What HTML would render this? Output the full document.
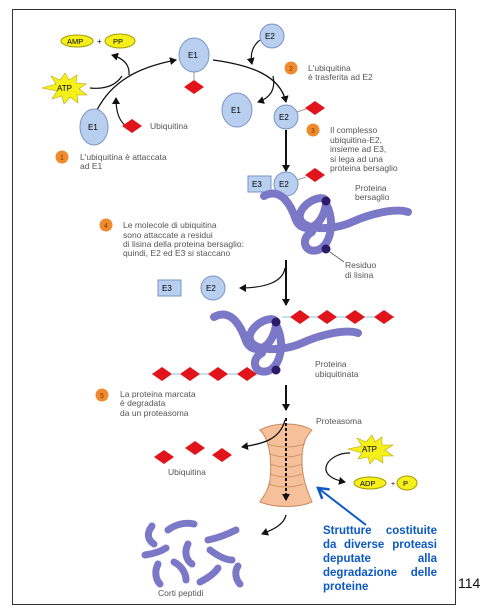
<!DOCTYPE html>
<html><head><meta charset="utf-8"><style>
html,body{margin:0;padding:0;background:#fff;}
svg{display:block;font-family:"Liberation Sans",sans-serif;}
.t{font-size:8.5px;fill:#555;}
.b{font-size:11.5px;fill:#0b59c4;font-weight:bold;}
</style></head><body>
<svg width="487" height="614" viewBox="0 0 487 614">
<defs>
<marker id="ar" markerWidth="8" markerHeight="8" refX="6" refY="4" orient="auto" markerUnits="userSpaceOnUse"><path d="M0,0 L7,4 L0,8 z" fill="#111"/></marker>
<marker id="ab" markerWidth="14" markerHeight="14" refX="11" refY="7" orient="auto" markerUnits="userSpaceOnUse"><path d="M1,1 L11,7 L1,13" fill="none" stroke="#0b59c4" stroke-width="2.5"/></marker>
<g id="dia"><path d="M-10,0 L0,-7 L10,0 L0,7 z" fill="#e0141a"/></g>
<g id="coil">
<path d="M264,196 C282,186 292,208 296,220 C302,234 322,230 326,204 C328,192 304,200 300,214 C296,230 330,232 352,222 C372,213 396,208 408,212" fill="none" stroke="#7b78c8" stroke-width="8" stroke-linecap="round"/>
<path d="M326,204 C336,222 330,246 318,250 C304,254 300,238 312,232" fill="none" stroke="#7b78c8" stroke-width="8" stroke-linecap="round"/>
<circle cx="326" cy="201" r="4.5" fill="#2c1a6b"/><circle cx="326" cy="249" r="4.5" fill="#2c1a6b"/>
</g>
</defs>
<rect x="12.5" y="9.5" width="443" height="595" fill="#fff" stroke="#333" stroke-width="1"/>

<ellipse cx="77" cy="41" rx="16" ry="6" fill="#f5ef1a" stroke="#a49c00"/>
<text x="67" y="44" font-size="7.5">AMP</text>
<text x="97" y="44" font-size="8">+</text>
<ellipse cx="120" cy="41" rx="15" ry="7" fill="#f5ef1a" stroke="#a49c00"/>
<text x="113" y="44" font-size="7.5">PP</text>
<polygon points="65,73 69,80 77,75 76,83 86,84 79,89 87,95 77,95 78,103 70,97 64,104 62,96 52,99 57,91 42,88 56,84 51,76 60,80" fill="#f5ef1a" stroke="#b8a800" stroke-width="0.6"/>
<text x="57" y="91" font-size="8">ATP</text>
<path d="M90,88 C110,90 118,82 122,76" fill="none" stroke="#111" stroke-width="1.2"/>
<path d="M129,75 C130,64 122,58 112,55" fill="none" stroke="#111" stroke-width="1.2" marker-end="url(#ar)"/>
<path d="M97,110 C115,75 150,65 176,60" fill="none" stroke="#111" stroke-width="1.3" marker-end="url(#ar)"/>
<path d="M126,126 C118,120 116,110 116,98" fill="none" stroke="#111" stroke-width="1.2" marker-end="url(#ar)"/>
<ellipse cx="194" cy="55" rx="15" ry="17" fill="#b9cff0" stroke="#7a94c4"/><text x="188" y="58" font-size="8">E1</text>
<line x1="194" y1="72" x2="194" y2="80" stroke="#999"/>
<use href="#dia" x="194" y="87"/>
<ellipse cx="94" cy="127" rx="14" ry="18" fill="#b9cff0" stroke="#7a94c4"/><text x="88" y="130" font-size="8">E1</text>
<use href="#dia" x="132" y="126"/>
<text x="150" y="129" class="t">Ubiquitina</text>
<circle cx="62" cy="157" r="6.5" fill="#f08a2e"/><text x="60" y="160" font-size="7" fill="#7a3a00">1</text>
<text x="80" y="160" class="t">L'ubiquitina è attaccata</text><text x="80" y="169" class="t">ad E1</text>
<circle cx="272" cy="36" r="12" fill="#b9cff0" stroke="#7a94c4"/><text x="265" y="39" font-size="8">E2</text>
<path d="M260,40 C252,46 250,55 252,64" fill="none" stroke="#111" stroke-width="1.2" marker-end="url(#ar)"/>
<path d="M213,60 C250,65 280,75 286,102" fill="none" stroke="#111" stroke-width="1.3" marker-end="url(#ar)"/>
<path d="M273,76 C276,90 270,98 258,102" fill="none" stroke="#111" stroke-width="1.2" marker-end="url(#ar)"/>
<circle cx="291" cy="68" r="6.5" fill="#f08a2e"/><text x="289" y="71" font-size="7" fill="#7a3a00">2</text>
<text x="308" y="71" class="t">L'ubiquitina</text><text x="308" y="80" class="t">è trasferita ad E2</text>
<ellipse cx="237" cy="110" rx="15" ry="17" fill="#b9cff0" stroke="#7a94c4"/><text x="231" y="113" font-size="8">E1</text>
<circle cx="286" cy="117" r="12" fill="#b9cff0" stroke="#7a94c4"/><text x="279" y="120" font-size="8">E2</text>
<line x1="297" y1="112" x2="306" y2="109" stroke="#999"/>
<use href="#dia" x="315" y="108"/>
<circle cx="313" cy="130" r="6.5" fill="#f08a2e"/><text x="311" y="133" font-size="7" fill="#7a3a00">3</text>
<text x="330" y="133" class="t">Il complesso</text><text x="330" y="143" class="t">ubiquitina-E2,</text><text x="330" y="152" class="t">insieme ad E3,</text><text x="330" y="162" class="t">si lega ad una</text><text x="330" y="171" class="t">proteina bersaglio</text>
<line x1="286" y1="130" x2="286" y2="171" stroke="#111" stroke-width="2" marker-end="url(#ar)"/>
<rect x="248" y="176" width="23" height="16" fill="#b9cff0" stroke="#7a94c4"/><text x="252" y="187" font-size="8">E3</text>
<circle cx="286" cy="184" r="12" fill="#b9cff0" stroke="#7a94c4"/><text x="279" y="187" font-size="8">E2</text>
<line x1="297" y1="180" x2="306" y2="177" stroke="#999"/>
<use href="#dia" x="315" y="175"/>
<text x="355" y="191" class="t">Proteina</text><text x="355" y="200" class="t">bersaglio</text>
<use href="#coil"/>
<circle cx="106" cy="225" r="6.5" fill="#f08a2e"/><text x="104" y="228" font-size="7" fill="#7a3a00">4</text>
<text x="123" y="228" class="t">Le molecole di ubiquitina</text><text x="123" y="238" class="t">sono attaccate a residui</text><text x="123" y="247" class="t">di lisina della proteina bersaglio:</text><text x="123" y="256" class="t">quindi, E2 ed E3 si staccano</text>
<line x1="330" y1="252" x2="344" y2="262" stroke="#555" stroke-width="0.8"/>
<text x="345" y="268" class="t">Residuo</text><text x="345" y="278" class="t">di lisina</text>
<line x1="286" y1="260" x2="286" y2="305" stroke="#111" stroke-width="2" marker-end="url(#ar)"/>
<path d="M285,268 C283,282 265,288 240,288" fill="none" stroke="#111" stroke-width="1.2" marker-end="url(#ar)"/>
<rect x="158" y="280" width="23" height="16" fill="#b9cff0" stroke="#7a94c4"/><text x="162" y="291" font-size="8">E3</text>
<circle cx="213" cy="288" r="12" fill="#b9cff0" stroke="#7a94c4"/><text x="206" y="291" font-size="8">E2</text>
<line x1="282" y1="317" x2="395" y2="317" stroke="#7fc6e8"/>
<use href="#dia" x="300" y="317"/><use href="#dia" x="327" y="317"/><use href="#dia" x="355" y="317"/><use href="#dia" x="384" y="317"/>
<line x1="152" y1="374" x2="270" y2="374" stroke="#7fc6e8"/>
<use href="#dia" x="162" y="374"/><use href="#dia" x="190" y="374"/><use href="#dia" x="218" y="374"/><use href="#dia" x="247" y="374"/>
<use href="#coil" transform="translate(-50,121)"/>
<text x="315" y="367" class="t">Proteina</text><text x="315" y="377" class="t">ubiquitinata</text>
<circle cx="102" cy="395" r="6.5" fill="#f08a2e"/><text x="100" y="398" font-size="7" fill="#7a3a00">5</text>
<text x="120" y="397" class="t">La proteina marcata</text><text x="120" y="406" class="t">è degradata</text><text x="120" y="416" class="t">da un proteasoma</text>
<line x1="286" y1="385" x2="286" y2="410" stroke="#111" stroke-width="2" marker-end="url(#ar)"/>
<text x="316" y="424" class="t">Proteasoma</text>
<path d="M260,430 C270,440 272,460 270,480 C268,492 262,498 260,502 C275,508 298,508 312,502 C308,492 302,480 302,460 C302,440 308,435 312,430 C298,422 275,422 260,430 z" fill="#f6c09a" stroke="#c98a60"/>
<g stroke="#c98a60" stroke-width="0.8" fill="none">
<path d="M267,444 Q286,450 305,444"/><path d="M270,454 Q286,460 302,454"/><path d="M270,464 Q286,470 302,464"/><path d="M270,474 Q286,480 302,474"/><path d="M269,484 Q286,490 303,484"/>
</g>
<line x1="286" y1="418" x2="286" y2="500" stroke="#111" stroke-width="2" stroke-dasharray="3,2" marker-end="url(#ar)"/>
<path d="M285,420 C280,440 262,444 242,447" fill="none" stroke="#111" stroke-width="1.3" marker-end="url(#ar)"/>
<use href="#dia" x="164" y="457"/><use href="#dia" x="195" y="448"/><use href="#dia" x="222" y="455"/>
<text x="168" y="475" class="t">Ubiquitina</text>
<polygon points="372,435 375,442 382,437 382,445 393,445 385,450 393,456 382,456 383,463 375,458 370,464 368,457 358,459 362,453 348,449 362,446 357,438 366,442" fill="#f5ef1a" stroke="#b8a800" stroke-width="0.6"/>
<text x="362" y="452" font-size="8">ATP</text>
<path d="M350,453 C330,452 310,475 345,482" fill="none" stroke="#111" stroke-width="1.2" marker-end="url(#ar)"/>
<ellipse cx="370" cy="483" rx="16" ry="6" fill="#f5ef1a" stroke="#a49c00"/><text x="360" y="486" font-size="7.5">ADP</text>
<text x="391" y="486" font-size="7">+</text>
<ellipse cx="407" cy="483" rx="10" ry="7" fill="#f5ef1a" stroke="#a49c00"/><text x="403" y="486" font-size="7.5">P</text>
<line x1="366" y1="525" x2="318" y2="488" stroke="#0b59c4" stroke-width="2" marker-end="url(#ab)"/>
<path d="M286,515 C284,525 272,530 262,534" fill="none" stroke="#111" stroke-width="1.3" marker-end="url(#ar)"/>
<g fill="none" stroke="#7b78c8" stroke-width="7" stroke-linecap="round">
<path d="M152,526 C146,534 148,540 154,544"/><path d="M168,530 C176,524 186,522 194,524"/><path d="M208,540 C218,538 228,534 236,530"/>
<path d="M145,555 C152,554 160,552 166,548"/><path d="M188,544 C184,552 186,560 192,564"/><path d="M210,550 C218,556 226,560 232,560"/>
<path d="M158,564 C154,572 156,580 160,584"/><path d="M174,562 C182,566 186,574 186,580"/><path d="M200,582 C208,578 214,574 218,568"/><path d="M238,566 C234,572 236,580 240,584"/>
</g>
<text x="158" y="596" class="t">Corti peptidi</text>
<g class="b">
<text x="323" y="534">Strutture</text><text x="437" y="534" text-anchor="end">costituite</text>
<text x="323" y="548">da</text><text x="344" y="548">diverse</text><text x="437" y="548" text-anchor="end">proteasi</text>
<text x="323" y="562">deputate</text><text x="437" y="562" text-anchor="end">alla</text>
<text x="323" y="576">degradazione</text><text x="437" y="576" text-anchor="end">delle</text>
<text x="323" y="590">proteine</text>
</g>
<text x="458" y="588" font-size="14" fill="#111">114</text>
</svg>
</body></html>
